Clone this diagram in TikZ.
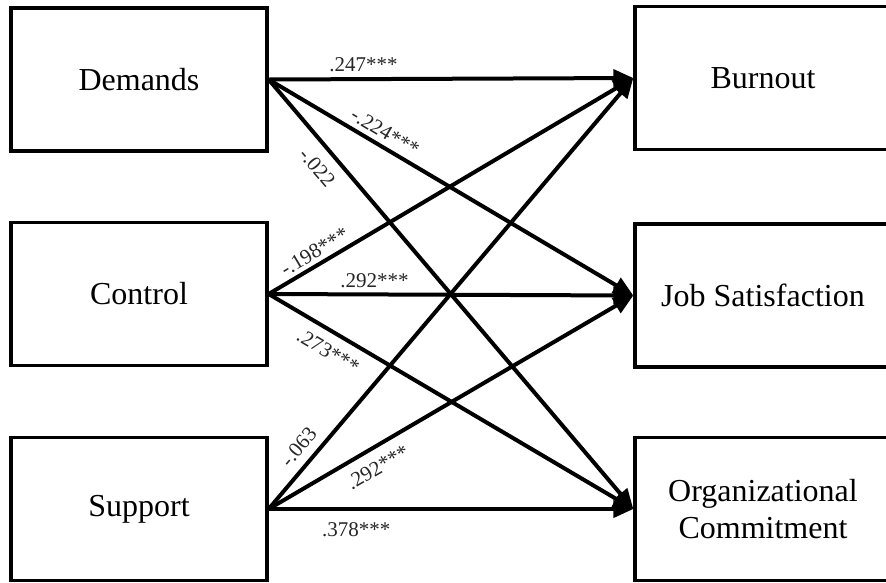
\documentclass[tikz,border=0pt]{standalone}
\usepackage{fontspec}
\setmainfont{Liberation Serif}
\usetikzlibrary{arrows.meta}
\begin{document}
\begin{tikzpicture}[x=1pt,y=-1pt,
  box/.style={draw,line width=3.3pt,minimum width=256pt,minimum height=143pt,inner sep=0pt,
    font=\fontsize{32}{37}\selectfont,align=center},
  link/.style={line width=4pt,-{Triangle[length=20pt,width=17pt]}},
  lab/.style={font=\fontsize{21}{24}\selectfont,text=black!85,inner sep=2pt,sloped}]
\useasboundingbox (0,0) rectangle (886,582);
\clip (0,0) rectangle (886,582);
\node[box] (dem) at (139,79.5) {Demands};
\node[box] (ctl) at (139,294) {Control};
\node[box] (sup) at (139,509) {Support};
\node[box] (bur) at (763,78) {Burnout};
\node[box] (job) at (763,295.5) {Job Satisfaction};
\node[box] (org) at (763,509) {Organizational\\Commitment};
\draw[link] (dem.east) -- node[lab,above=3pt,pos=0.26]{.247***} (bur.west);
\draw[link] (dem.east) -- node[lab,above=3pt,pos=0.3]{-.224***} (job.west);
\draw[link] (dem.east) -- node[lab,below=9pt,pos=0.175]{-.022} (org.west);
\draw[link] (ctl.east) -- node[lab,above=2pt,pos=0.144]{-.198***} (bur.west);
\draw[link] (ctl.east) -- node[lab,above=3pt,pos=0.29]{.292***} (job.west);
\draw[link] (ctl.east) -- node[lab,below=8pt,pos=0.19]{.273***} (org.west);
\draw[link] (sup.east) -- node[lab,above=6pt,pos=0.118]{-.063} (bur.west);
\draw[link] (sup.east) -- node[lab,below=8pt,pos=0.273]{.292***} (job.west);
\draw[link] (sup.east) -- node[lab,below=10pt,pos=0.24]{.378***} (org.west);
\end{tikzpicture}
\end{document}
